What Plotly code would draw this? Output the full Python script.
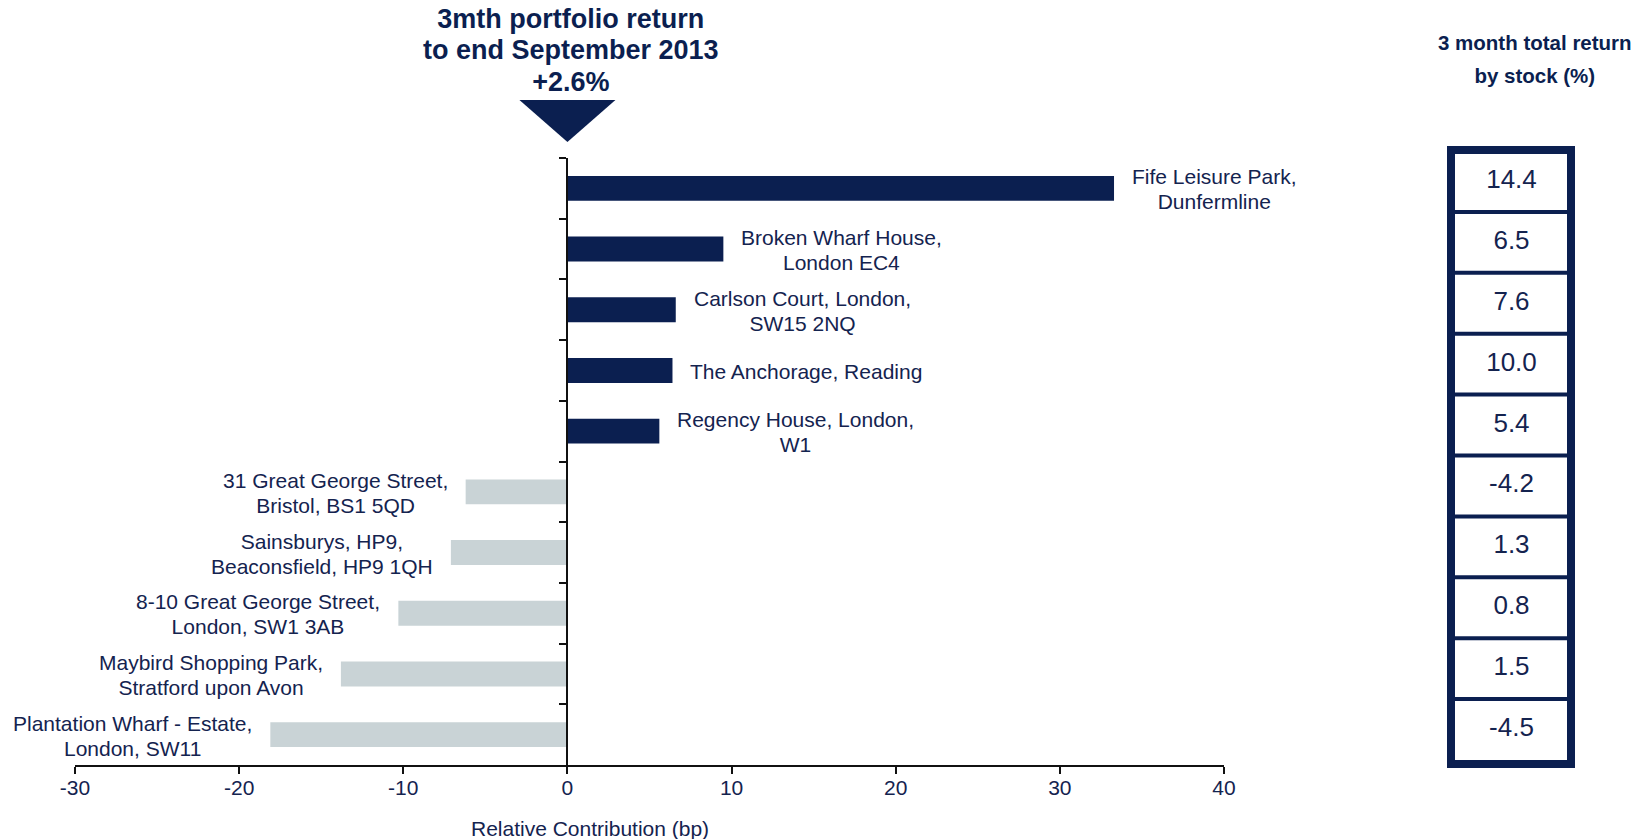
import plotly.graph_objects as go

# Property contributions to relative return (basis points) and 3-month total return by stock (%)
properties = [
    "Fife Leisure Park,<br>Dunfermline",
    "Broken Wharf House,<br>London EC4",
    "Carlson Court, London,<br>SW15 2NQ",
    "The Anchorage, Reading",
    "Regency House, London,<br>W1",
    "31 Great George Street,<br>Bristol, BS1 5QD",
    "Sainsburys, HP9,<br>Beaconsfield, HP9 1QH",
    "8-10 Great George Street,<br>London, SW1 3AB",
    "Maybird Shopping Park,<br>Stratford upon Avon",
    "Plantation Wharf - Estate,<br>London, SW11",
]
contribution_bp = [33.3, 9.5, 6.6, 6.4, 5.6, -6.2, -7.1, -10.3, -13.8, -18.1]
total_return_pct = [14.4, 6.5, 7.6, 10.0, 5.4, -4.2, 1.3, 0.8, 1.5, -4.5]
x_ticks = [-30, -20, -10, 0, 10, 20, 30, 40]
headline = "3mth portfolio return<br>to end September 2013<br>+2.6%"
table_title = "3 month total return<br>by stock (%)"
axis_title = "Relative Contribution (bp)"

NAVY = "#0b1f50"
GREY = "#c9d3d6"
TEXT = "#14234f"
FONT = "Liberation Sans, Arial, sans-serif"

# Page geometry (pixels)
W, H = 1648, 839
ML, MR, MT, MB = 40, 40, 140, 70
PW, PH = W - ML - MR, H - MT - MB


def fx(p):
    return (p - ML) / PW


def fy(p):
    return (H - MB - p) / PH


def sized(text, px, bold=False):
    # glyph size set inline so the line pitch follows the annotation's base size
    body = f'<span style="font-size:{px}px">{text}</span>'
    return f"<b>{body}</b>" if bold else body


x_min, x_max = x_ticks[0], x_ticks[-1]
x_dom = [fx(75), fx(1224)]
y_dom = [fy(765), fy(158)]
TBL_L, TBL_R, TBL_T, TBL_B = 1455, 1568, 151, 760
t_xdom = [fx(TBL_L), fx(TBL_R)]
t_ydom = [fy(TBL_B), fy(TBL_T)]
n = len(properties)
cat_range = [n - 0.5, -0.5]

zero_pos = x_dom[0] + (0 - x_min) / (x_max - x_min) * (x_dom[1] - x_dom[0])
px_per_unit = (1224 - 75) / (x_max - x_min)

bar_colors = [NAVY if v >= 0 else GREY for v in contribution_bp]

fig = go.Figure()
fig.add_trace(go.Bar(
    x=contribution_bp, y=properties, orientation="h",
    marker=dict(color=bar_colors, line=dict(width=0)),
    width=0.41, hoverinfo="skip", showlegend=False,
    xaxis="x", yaxis="y",
))

# Return table values
fig.add_trace(go.Scatter(
    x=[0.5] * n, y=properties, mode="text",
    text=[f"{v:.1f}" for v in total_return_pct],
    textposition="middle center",
    textfont=dict(family=FONT, size=26, color=TEXT),
    cliponaxis=False, hoverinfo="skip", showlegend=False,
    xaxis="x2", yaxis="y2",
))

shapes = []
# Table outer border (outer edge 1447..1575 x 146..768) and row separators
bw = 8
shapes.append(dict(
    type="rect", xref="paper", yref="paper",
    x0=fx(1447 + bw / 2), x1=fx(1575 - bw / 2),
    y0=fy(768 - bw / 2), y1=fy(146 + bw / 2),
    line=dict(color=NAVY, width=bw), fillcolor="rgba(0,0,0,0)",
))
for k in range(n - 1):
    shapes.append(dict(
        type="line", xref="x2", yref="y2",
        x0=0, x1=1, y0=k + 0.5, y1=k + 0.5,
        line=dict(color=NAVY, width=4),
    ))

# Pointer triangle above the zero line
hw = 48 / px_per_unit
shapes.append(dict(
    type="path", xref="x", yref="paper",
    path=f"M {-hw},{fy(100)} L {hw},{fy(100)} L 0,{fy(142)} Z",
    fillcolor=NAVY, line=dict(width=0),
))

annotations = []
for name, v in zip(properties, contribution_bp):
    pos = v >= 0
    annotations.append(dict(
        x=v, y=name, xref="x", yref="y",
        text=sized(name, 21), showarrow=False, align="center",
        xanchor="left" if pos else "right", yanchor="middle",
        xshift=16 if pos else -16, yshift=-1,
        font=dict(family=FONT, size=19.3, color=TEXT),
    ))

annotations.append(dict(
    x=0, y=fy(50.5), xref="x", yref="paper", xshift=4,
    text=sized(headline, 27, bold=True), showarrow=False, align="center",
    xanchor="center", yanchor="middle",
    font=dict(family=FONT, size=24.2, color=NAVY),
))
annotations.append(dict(
    x=0.5, y=fy(59.5), xref="x2", yref="paper", xshift=23,
    text=sized(table_title, 20.5, bold=True), showarrow=False, align="center",
    xanchor="center", yanchor="middle",
    font=dict(family=FONT, size=25.4, color=NAVY),
))
annotations.append(dict(
    x=0, y=fy(828), xref="x", yref="paper", xshift=23,
    text=axis_title, showarrow=False,
    xanchor="center", yanchor="middle",
    font=dict(family=FONT, size=21, color=TEXT),
))

fig.update_layout(
    width=W, height=H,
    margin=dict(l=ML, r=MR, t=MT, b=MB, pad=0),
    paper_bgcolor="white", plot_bgcolor="white",
    showlegend=False,
    xaxis=dict(
        domain=x_dom, range=[x_min, x_max], anchor="y",
        tickmode="array", tickvals=x_ticks, ticktext=[str(t) for t in x_ticks],
        ticks="outside", ticklen=7, tickwidth=2, tickcolor="#111",
        ticklabelstandoff=-4,
        showline=True, linewidth=2, linecolor="#111",
        showgrid=False, zeroline=False,
        tickfont=dict(family=FONT, size=21, color=TEXT),
    ),
    yaxis=dict(
        domain=y_dom, type="category", categoryorder="array",
        categoryarray=properties, range=cat_range,
        anchor="free", position=zero_pos,
        tickson="boundaries", ticks="outside", ticklen=7, tickwidth=2,
        tickcolor="#111", showline=True, linewidth=2, linecolor="#111",
        showticklabels=False, showgrid=False, zeroline=False,
    ),
    xaxis2=dict(domain=t_xdom, range=[0, 1], anchor="y2", visible=False),
    yaxis2=dict(
        domain=t_ydom, type="category", categoryorder="array",
        categoryarray=properties, range=cat_range, anchor="x2", visible=False,
    ),
    shapes=shapes,
    annotations=annotations,
)

fig.write_html("out.html")
